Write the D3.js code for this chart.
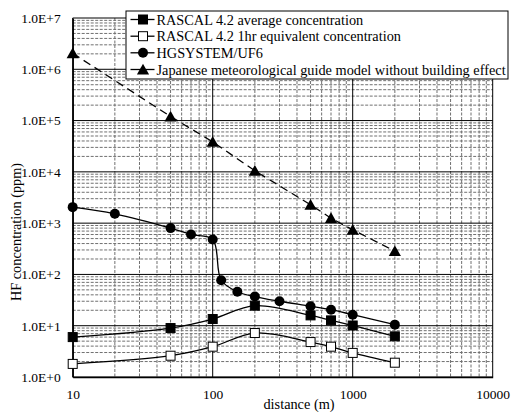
<!DOCTYPE html>
<html>
<head>
<meta charset="utf-8">
<script src="https://cdn.jsdelivr.net/npm/d3@7"></script>
<style>
  html, body { margin: 0; padding: 0; background: #fff; }
  svg { display: block; }
</style>
</head>
<body>
<svg id="chart" width="513" height="412"></svg>
<script>
// Downwind distance (m) for each model run
const distRascal = [10, 50, 100, 200, 500, 700, 1000, 2000];
const distHg = [10, 20, 50, 70, 100, 115, 150, 200, 300, 500, 700, 1000, 2000];
const distJp = [10, 50, 100, 200, 500, 700, 1000, 2000];

// HF concentration (ppm)
const rascalAvg = [6.0, 9.0, 13.5, 24.6, 15.9, 12.7, 10.1, 6.2];
const rascal1hr = [1.8, 2.6, 3.9, 7.2, 4.8, 3.9, 2.95, 1.9];
const hgsystem = [2050, 1520, 800, 600, 480, 77, 46, 37, 30, 24, 20.5, 16.4, 10.5];
const japanese = [2.05e6, 1.2e5, 3.85e4, 1.05e4, 2280, 1250, 740, 285];

const seriesNames = [
  "RASCAL 4.2 average concentration",
  "RASCAL 4.2 1hr equivalent concentration",
  "HGSYSTEM/UF6",
  "Japanese meteorological guide model without building effect"
];

const xTickValues = [10, 100, 1000, 10000];
const yTickValues = [1, 10, 100, 1e3, 1e4, 1e5, 1e6, 1e7];

const FONT = "Liberation Serif";
const FS = "14.3px";
const FS_TICK = "13.5px";

const svg = d3.select("#chart");
const plotLeft = 72.7, plotRight = 492.7, plotTop = 18, plotBottom = 377;

const x = d3.scaleLog().domain([10, 10000]).range([plotLeft, plotRight]);
const y = d3.scaleLog().domain([1, 1e7]).range([plotBottom, plotTop]);

// Minor gridlines (2..9 within each decade)
const minorX = x.ticks().filter(v => !xTickValues.includes(v));
const minorY = y.ticks().filter(v => !yTickValues.includes(v));

const grid = svg.append("g");
grid.selectAll("line.mx").data(minorX).join("line")
  .attr("x1", d => x(d)).attr("x2", d => x(d))
  .attr("y1", plotTop).attr("y2", plotBottom)
  .attr("stroke", "#707070").attr("stroke-width", 1).attr("stroke-dasharray", "3,1.5");
grid.selectAll("line.my").data(minorY).join("line")
  .attr("x1", plotLeft).attr("x2", plotRight)
  .attr("y1", d => y(d)).attr("y2", d => y(d))
  .attr("stroke", "#707070").attr("stroke-width", 1).attr("stroke-dasharray", "3,1.5");

// Major gridlines
grid.selectAll("line.Mx").data(xTickValues).join("line")
  .attr("x1", d => x(d)).attr("x2", d => x(d))
  .attr("y1", plotTop).attr("y2", plotBottom)
  .attr("stroke", "#000").attr("stroke-width", 1);
grid.selectAll("line.My").data(yTickValues).join("line")
  .attr("x1", plotLeft).attr("x2", plotRight)
  .attr("y1", d => y(d)).attr("y2", d => y(d))
  .attr("stroke", "#000").attr("stroke-width", 1);

// Axes
const xAxis = svg.append("g").attr("transform", `translate(0,${plotBottom})`)
  .call(d3.axisBottom(x).tickValues(xTickValues).tickSize(0).tickPadding(12)
    .tickFormat(d3.format("d")));
xAxis.select(".domain").attr("stroke", "#000").attr("stroke-width", 1.5);
xAxis.selectAll("text").style("font-size", FS_TICK).style("font-family", FONT).attr("fill", "#000");

const yAxis = svg.append("g").attr("transform", `translate(${plotLeft},0)`)
  .call(d3.axisLeft(y).tickValues(yTickValues).tickSize(0).tickPadding(12)
    .tickFormat(d => "1.0E+" + Math.round(Math.log10(d))));
yAxis.select(".domain").attr("stroke", "#000").attr("stroke-width", 1.5);
yAxis.selectAll("text").style("font-size", FS_TICK).style("font-family", FONT).attr("fill", "#000");

// Axis titles
svg.append("text").attr("x", 299).attr("y", 409).attr("text-anchor", "middle")
  .style("font-size", FS).style("font-family", FONT).text("distance (m)");
svg.append("text").attr("transform", "translate(21,232) rotate(-90)")
  .attr("text-anchor", "middle").style("font-size", FS).style("font-family", FONT)
  .text("HF concentration (ppm)");

// Series lines
const smooth = d3.line().x(d => x(d[0])).y(d => y(d[1])).curve(d3.curveCatmullRom.alpha(0.5));
const straight = d3.line().x(d => x(d[0])).y(d => y(d[1]));

const ptsAvg = d3.zip(distRascal, rascalAvg);
const pts1hr = d3.zip(distRascal, rascal1hr);
const ptsHg = d3.zip(distHg, hgsystem);
const ptsJp = d3.zip(distJp, japanese);

svg.append("path").attr("d", straight(ptsJp)).attr("fill", "none")
  .attr("stroke", "#000").attr("stroke-width", 1.3).attr("stroke-dasharray", "8,5");
[ptsHg, ptsAvg, pts1hr].forEach(p => {
  svg.append("path").attr("d", smooth(p)).attr("fill", "none")
    .attr("stroke", "#000").attr("stroke-width", 1.3);
});

// Marker shapes
const sq = 9;
function square(g, cx, cy, fill) {
  g.append("rect").attr("x", cx - sq / 2).attr("y", cy - sq / 2)
    .attr("width", sq).attr("height", sq)
    .attr("fill", fill).attr("stroke", "#000").attr("stroke-width", 1);
}
function circle(g, cx, cy) {
  g.append("circle").attr("cx", cx).attr("cy", cy).attr("r", 5).attr("fill", "#000");
}
function triangle(g, cx, cy) {
  const s = 5.8;
  g.append("path").attr("d", `M${cx},${cy - s}L${cx + s * 1.05},${cy + s * 0.85}L${cx - s * 1.05},${cy + s * 0.85}Z`)
    .attr("fill", "#000");
}

const marks = svg.append("g");
ptsJp.forEach(d => triangle(marks, x(d[0]), y(d[1])));
ptsHg.forEach(d => circle(marks, x(d[0]), y(d[1])));
ptsAvg.forEach(d => square(marks, x(d[0]), y(d[1]), "#000"));
pts1hr.forEach(d => square(marks, x(d[0]), y(d[1]), "#fff"));

// Legend
const lg = svg.append("g");
lg.append("rect").attr("x", 126).attr("y", 11).attr("width", 382).attr("height", 68)
  .attr("fill", "#fff").attr("stroke", "#000").attr("stroke-width", 1);
const rowY = [19.5, 36.2, 52.8, 69.5];
const drawers = [
  (g, cx, cy) => square(g, cx, cy, "#000"),
  (g, cx, cy) => square(g, cx, cy, "#fff"),
  (g, cx, cy) => circle(g, cx, cy),
  (g, cx, cy) => triangle(g, cx, cy)
];
seriesNames.forEach((name, i) => {
  const cy = rowY[i];
  lg.append("line").attr("x1", 130.5).attr("x2", 154.5).attr("y1", cy).attr("y2", cy)
    .attr("stroke", "#000").attr("stroke-width", 1.3);
  drawers[i](lg, 143, cy);
  lg.append("text").attr("x", 156.5).attr("y", cy + 5).style("font-size", FS)
    .style("font-family", FONT).text(name);
});
</script>
</body>
</html>
